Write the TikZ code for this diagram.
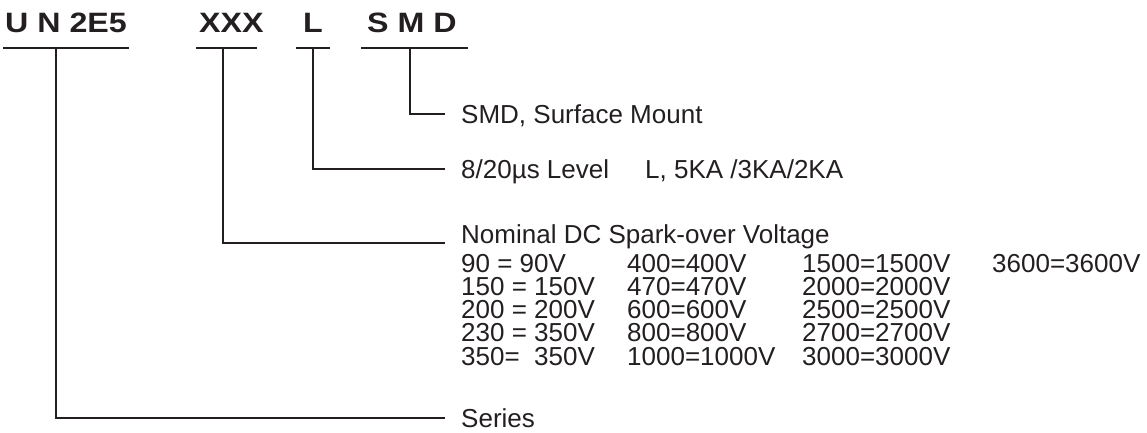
\documentclass[tikz,border=0pt]{standalone}
\usepackage{fontspec}
\setmainfont{Liberation Sans}
\newfontfamily\headfont[FakeStretch=1.15]{Liberation Sans}
\definecolor{ink}{HTML}{231F20}

\begin{document}
\begin{tikzpicture}[
    x=1pt, y=-1pt,
    head/.style={anchor=base west, inner sep=0pt, text=ink, font=\headfont\bfseries\fontsize{28}{28}\selectfont},
    desc/.style={anchor=base west, inner sep=0pt, text=ink, text height=18.6pt, text depth=0pt, font=\fontsize{26}{26}\selectfont},
    cell/.style={anchor=base west, inner sep=0pt, text=ink, font=\fontsize{26}{26}\selectfont},
    bar/.style={draw=ink, line width=2pt},
    lead/.style={draw=ink, line width=2pt, shorten >=16pt},
]
    \useasboundingbox (0,0) rectangle (1147,433);

    % Part number
    \node[head] (hdUN) at (5, 33) {U N 2E5};
    \node[head] (hdXXX) at (199, 33) {XXX};
    \node[head] (hdL) at (303, 33) {L};
    \node[head] (hdSMD) at (367, 33) {S M D};

    % Underlines
    \draw[bar] (3, 48) -- (129, 48);
    \draw[bar] (196, 48) -- (257, 48);
    \draw[bar] (296, 48) -- (330, 48);
    \draw[bar] (361, 48) -- (468, 48);
    \coordinate (uUN) at (56, 48);
    \coordinate (uXXX) at (223, 48);
    \coordinate (uL) at (313, 48);
    \coordinate (uSMD) at (410, 48);

    % Descriptions
    \node[desc] (dSMD) at (461, 123) {SMD, Surface Mount};
    \node[desc] (dL) at (461, 178) {8/20µs Level\hspace{36pt}L, 5KA /3KA/2KA};
    \node[desc] (dV) at (461, 243) {Nominal DC Spark-over Voltage};
    \node[desc] (dSeries) at (461, 427) {Series};

    % Voltage codes
    \node[cell] (v11) at (461, 272) {90 = 90V};
    \node[cell] (v12) at (627, 272) {400=400V};
    \node[cell] (v13) at (802, 272) {1500=1500V};
    \node[cell] (v14) at (992, 272) {3600=3600V};
    \node[cell] (v21) at (461, 295.25) {150 = 150V};
    \node[cell] (v22) at (627, 295.25) {470=470V};
    \node[cell] (v23) at (802, 295.25) {2000=2000V};
    \node[cell] (v31) at (461, 318.5) {200 = 200V};
    \node[cell] (v32) at (627, 318.5) {600=600V};
    \node[cell] (v33) at (802, 318.5) {2500=2500V};
    \node[cell] (v41) at (461, 341.75) {230 = 350V};
    \node[cell] (v42) at (627, 341.75) {800=800V};
    \node[cell] (v43) at (802, 341.75) {2700=2700V};
    \node[cell] (v51) at (461, 365) {350=\ \ 350V};
    \node[cell] (v52) at (627, 365) {1000=1000V};
    \node[cell] (v53) at (802, 365) {3000=3000V};

    % Leaders
    \draw[lead] (uSMD) |- (dSMD.west);
    \draw[lead] (uL) |- (dL.west);
    \draw[lead] (uXXX) |- (dV.base west);
    \draw[lead] (uUN) |- (dSeries.west);
\end{tikzpicture}
\end{document}
